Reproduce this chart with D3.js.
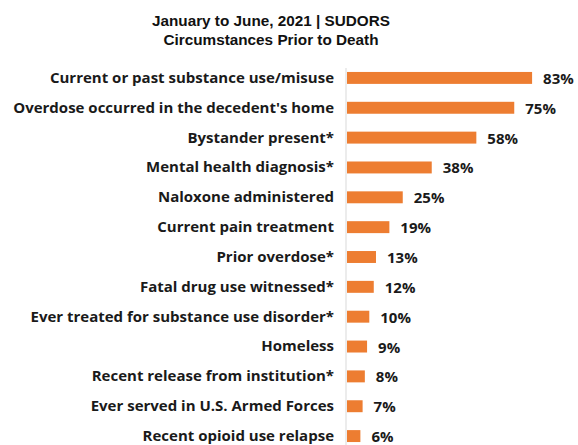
<!DOCTYPE html>
<html lang="en">
<head>
<meta charset="UTF-8">
<title>SUDORS circumstances</title>
<script src="https://d3js.org/d3.v7.min.js"></script>
<style>
  body { margin: 0; background: #fff; }
</style>
</head>
<body>
<script>
// data
const categories = [
  "Current or past substance use/misuse",
  "Overdose occurred in the decedent's home",
  "Bystander present*",
  "Mental health diagnosis*",
  "Naloxone administered",
  "Current pain treatment",
  "Prior overdose*",
  "Fatal drug use witnessed*",
  "Ever treated for substance use disorder*",
  "Homeless",
  "Recent release from institution*",
  "Ever served in U.S. Armed Forces",
  "Recent opioid use relapse"
];
const values = [83, 75, 58, 38, 25, 19, 13, 12, 10, 9, 8, 7, 6];
const titleLines = ["January to June, 2021 | SUDORS", "Circumstances Prior to Death"];

const W = 578, H = 445;
const x0 = 346;

const svg = d3.select("body").append("svg").attr("width", W).attr("height", H);

const x = d3.scaleLinear().domain([0, 100]).range([x0, x0 + 223]);
const y = d3.scaleBand().domain(categories).range([63, 451]).paddingInner(0.6).paddingOuter(0.3);

svg.selectAll(".title").data(titleLines).enter()
  .append("text")
  .attr("class", "title")
  .attr("x", 271)
  .attr("y", (d, i) => 26 + i * 19)
  .attr("text-anchor", "middle")
  .style("font-family", "'Liberation Sans', Arial, sans-serif")
  .style("font-weight", "bold")
  .style("font-size", "15.3px")
  .style("fill", "#111")
  .text(d => d);

// vertical axis line
svg.append("line")
  .attr("x1", x0).attr("x2", x0)
  .attr("y1", 68).attr("y2", H)
  .style("stroke", "#d9d9d9")
  .style("stroke-width", 1);

svg.selectAll(".bar").data(values).enter()
  .append("rect")
  .attr("class", "bar")
  .attr("x", x(0) + 1)
  .attr("y", (d, i) => y(categories[i]))
  .attr("width", d => x(d) - x(0))
  .attr("height", y.bandwidth())
  .style("fill", "#ed7d31");

svg.selectAll(".lab").data(categories).enter()
  .append("text")
  .attr("class", "lab")
  .attr("x", 334)
  .attr("y", d => y(d) + y.bandwidth() / 2)
  .attr("dy", "0.33em")
  .attr("text-anchor", "end")
  .style("font-family", "'Open Sans', sans-serif")
  .style("font-weight", "bold")
  .style("font-size", "15px")
  .style("fill", "#1a1a1a")
  .text(d => d);

svg.selectAll(".val").data(values).enter()
  .append("text")
  .attr("class", "val")
  .attr("x", d => x(d) + 12)
  .attr("y", (d, i) => y(categories[i]) + y.bandwidth() / 2)
  .attr("dy", "0.4em")
  .style("font-family", "'Open Sans', sans-serif")
  .style("font-weight", "bold")
  .style("font-size", "15px")
  .style("fill", "#1a1a1a")
  .text(d => d + "%");
</script>
</body>
</html>
